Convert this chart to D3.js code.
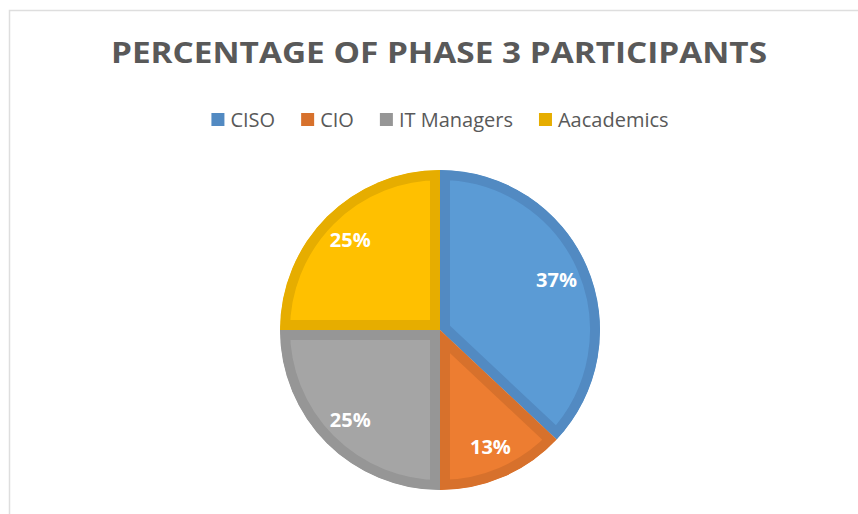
<!DOCTYPE html>
<html>
<head>
<meta charset="utf-8">
<script src="https://cdn.jsdelivr.net/npm/d3@7"></script>
<style>
    body { margin: 0; background: #fff; }
    svg { display: block; }
</style>
</head>
<body>
<div class="pie-container"></div>
<script>
// Data
const categories = ['CISO', 'CIO', 'IT Managers', 'Aacademics']
const shares = [37, 13, 25, 25]
const fills = ['#5b9bd5', '#ed7d31', '#a5a5a5', '#ffc000']
const edges = ['#528ac2', '#d7712c', '#969696', '#e6ad00']

let pie_dimensions = {
    width: 858,
    height: 514,
    cx: 440,
    cy: 330,
    radius: 160
}

const svg = d3.select('.pie-container')
    .append('svg')
    .attr('width', pie_dimensions.width)
    .attr('height', pie_dimensions.height)

// chart area frame (only top and left edges are in view)
svg.append('rect')
    .attr('x', 9.5)
    .attr('y', 10.5)
    .attr('width', 900)
    .attr('height', 600)
    .attr('fill', 'none')
    .attr('stroke', '#dedede')
    .attr('stroke-width', 1.5)

// Title
svg.append('text')
    .attr('x', 439)
    .attr('y', 63)
    .attr('text-anchor', 'middle')
    .attr('font-family', '"Open Sans", sans-serif')
    .attr('font-weight', 'bold')
    .attr('font-size', '29px')
    .attr('fill', '#595959')
    .attr('textLength', 656)
    .attr('lengthAdjust', 'spacingAndGlyphs')
    .text('PERCENTAGE OF PHASE 3 PARTICIPANTS')

// Legend
const legend = svg.append('g')
const items = legend.selectAll('g')
    .data(categories)
    .join('g')

items.append('rect')
    .attr('width', 13)
    .attr('height', 13)
    .attr('y', 113)
    .attr('fill', (d, i) => edges[i])

items.append('text')
    .attr('x', 19)
    .attr('y', 126.5)
    .attr('font-family', '"Open Sans", sans-serif')
    .attr('font-size', '20px')
    .attr('fill', '#595959')
    .text(d => d)

let widths = []
items.select('text').each(function () { widths.push(19 + this.getComputedTextLength()) })
const gap = 26
const total = d3.sum(widths) + gap * (widths.length - 1)
let xpos = 440 - total / 2
items.attr('transform', (d, i) => {
    const t = `translate(${xpos},0)`
    xpos += widths[i] + gap
    return t
})

// Pie
const pie = d3.pie().sort(null).value(d => d)
const arc = d3.arc().innerRadius(0).outerRadius(pie_dimensions.radius)
const labelArc = d3.arc().innerRadius(127).outerRadius(127)

const slices = pie(shares)
const container = svg.append('g')
    .attr('transform', `translate(${pie_dimensions.cx},${pie_dimensions.cy})`)

const defs = svg.append('defs')
defs.selectAll('clipPath')
    .data(slices)
    .join('clipPath')
    .attr('id', (d, i) => 'slice-clip-' + i)
    .append('path')
    .attr('d', arc)

// darker inset border: stroke twice the width, clipped to the slice
container.selectAll('path.slice')
    .data(slices)
    .join('path')
    .attr('class', 'slice')
    .attr('d', arc)
    .attr('fill', (d, i) => fills[i])
    .attr('stroke', (d, i) => edges[i])
    .attr('stroke-width', 20)
    .attr('stroke-linejoin', 'miter')
    .attr('clip-path', (d, i) => `url(#slice-clip-${i})`)

// Data labels
container.selectAll('text.label')
    .data(slices)
    .join('text')
    .attr('class', 'label')
    .attr('transform', d => `translate(${labelArc.centroid(d)})`)
    .attr('dy', '0.35em')
    .attr('text-anchor', 'middle')
    .attr('font-family', '"Open Sans", sans-serif')
    .attr('font-weight', 'bold')
    .attr('font-size', '20px')
    .attr('fill', '#ffffff')
    .text(d => d.data + '%')
</script>
</body>
</html>
